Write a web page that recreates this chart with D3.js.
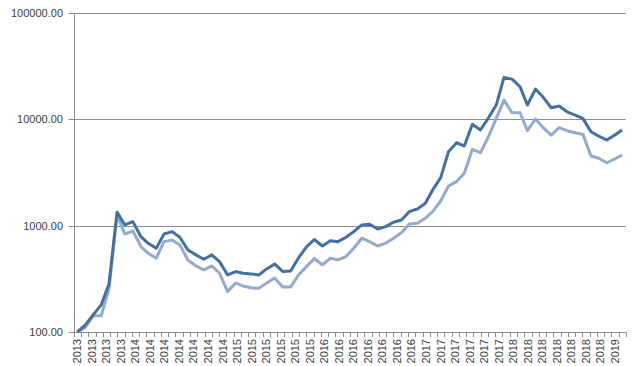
<!DOCTYPE html>
<html>
<head>
<meta charset="utf-8">
<script src="https://cdn.jsdelivr.net/npm/d3@7"></script>
<style>
  body { margin: 0; background: #fff; }
  text { font-family: "Liberation Sans", Arial, sans-serif; }
</style>
</head>
<body>
<div id="container"></div>
<script>
let width = 640;
let height = 366;

// monthly points
let months = [
    "2013-06", "2013-07", "2013-08", "2013-09", "2013-10", "2013-11", "2013-12",
    "2014-01", "2014-02", "2014-03", "2014-04", "2014-05", "2014-06", "2014-07", "2014-08", "2014-09", "2014-10", "2014-11", "2014-12",
    "2015-01", "2015-02", "2015-03", "2015-04", "2015-05", "2015-06", "2015-07", "2015-08", "2015-09", "2015-10", "2015-11", "2015-12",
    "2016-01", "2016-02", "2016-03", "2016-04", "2016-05", "2016-06", "2016-07", "2016-08", "2016-09", "2016-10", "2016-11", "2016-12",
    "2017-01", "2017-02", "2017-03", "2017-04", "2017-05", "2017-06", "2017-07", "2017-08", "2017-09", "2017-10", "2017-11", "2017-12",
    "2018-01", "2018-02", "2018-03", "2018-04", "2018-05", "2018-06", "2018-07", "2018-08", "2018-09", "2018-10", "2018-11", "2018-12",
    "2019-01", "2019-02", "2019-03"
];

let darkSeries = [
    100, 116, 145, 180, 283, 1340, 1016, 1091, 788, 683,
    614, 836, 879, 777, 591, 531, 483, 531, 459, 344,
    370, 357, 352, 344, 392, 437, 371, 375, 497, 632,
    741, 644, 722, 707, 778, 879, 1016, 1031, 931, 979,
    1077, 1132, 1356, 1436, 1623, 2167, 2830, 4955, 6030, 5610,
    8980, 7940, 10220, 13620, 24800, 23900, 20250, 13620, 19250, 16100,
    12850, 13340, 11780, 10960, 10210, 7640, 6960, 6390, 7110, 7940
];

let lightSeries = [
    100, 110, 142, 142, 254, 1250, 836, 890, 635, 550,
    494, 708, 734, 659, 476, 418, 384, 418, 357, 240,
    288, 271, 261, 258, 289, 322, 265, 265, 344, 412,
    492, 427, 494, 477, 512, 614, 762, 707, 644, 684,
    762, 860, 1038, 1054, 1175, 1356, 1706, 2361, 2595, 3107,
    5225, 4855, 6780, 10210, 15170, 11530, 11530, 7820, 10070, 8340,
    7110, 8340, 7820, 7480, 7220, 4520, 4300, 3905, 4240, 4615
];

let yTicks = [100, 1000, 10000, 100000];

// one label every second tick
let xLabels = [
    "2013", "2013", "2013", "2013",
    "2014", "2014", "2014", "2014", "2014", "2014", "2014",
    "2015", "2015", "2015", "2015", "2015", "2015",
    "2016", "2016", "2016", "2016", "2016", "2016", "2016",
    "2017", "2017", "2017", "2017", "2017", "2017",
    "2018", "2018", "2018", "2018", "2018", "2018", "2018",
    "2019"
];

let day = 864e5;
let tickStep = 28 * day;
let nTicks = 76;

let dates = months.map(d3.utcParse('%Y-%m'));
let axisStart = new Date(+dates[0] - tickStep / 2);
let axisEnd = new Date(+axisStart + nTicks * tickStep);

let plotLeft = 73.7, plotRight = 626;

let x = d3.scaleUtc().domain([axisStart, axisEnd]).range([plotLeft, plotRight]);
let y = d3.scaleLog().domain([100, 100000]).range([332, 13]);

let svg = d3.select("#container")
    .append("svg")
    .attr("width", width)
    .attr("height", height);

svg.append('rect')
    .attr('width', width)
    .attr('height', height)
    .attr('fill', '#ffffff');

let gridColor = '#8c8c8c';

// horizontal gridlines
svg.selectAll('.grid')
    .data(yTicks)
    .enter()
    .append('line')
    .attr('class', 'grid')
    .attr('x1', plotLeft - 5)
    .attr('x2', plotRight)
    .attr('y1', d => Math.round(y(d)) + 0.5)
    .attr('y2', d => Math.round(y(d)) + 0.5)
    .attr('stroke', gridColor)
    .attr('stroke-width', 1);

// y axis line
svg.append('line')
    .attr('x1', Math.round(plotLeft) + 0.5)
    .attr('x2', Math.round(plotLeft) + 0.5)
    .attr('y1', Math.round(y(100000)))
    .attr('y2', Math.round(y(100)) + 1)
    .attr('stroke', gridColor);

svg.selectAll('.ylabel')
    .data(yTicks)
    .enter()
    .append('text')
    .attr('class', 'ylabel')
    .attr('x', 63)
    .attr('y', d => y(d))
    .attr('dy', '0.35em')
    .attr('text-anchor', 'end')
    .attr('font-size', 11)
    .attr('fill', '#404040')
    .text(d => d3.format('.2f')(d));

// x ticks every 28 days
let tickDates = d3.range(nTicks + 1).map(k => new Date(+axisStart + k * tickStep));
svg.selectAll('.xtick')
    .data(tickDates)
    .enter()
    .append('line')
    .attr('class', 'xtick')
    .attr('x1', d => Math.round(x(d)) + 0.5)
    .attr('x2', d => Math.round(x(d)) + 0.5)
    .attr('y1', Math.round(y(100)) + 0.5)
    .attr('y2', Math.round(y(100)) + 5)
    .attr('stroke', gridColor);

svg.selectAll('.xlabel')
    .data(xLabels)
    .enter()
    .append('text')
    .attr('class', 'xlabel')
    .attr('transform', (d, i) => {
        let cx = x(new Date(+axisStart + tickStep / 2 + i * 2 * tickStep));
        return 'translate(' + cx + ',339) rotate(-90)';
    })
    .attr('dy', '0.35em')
    .attr('text-anchor', 'end')
    .attr('font-size', 11)
    .attr('fill', '#404040')
    .text(d => d);

let line = d3.line()
    .x((d, i) => x(dates[i]))
    .y(d => y(d));

svg.append('path')
    .datum(lightSeries)
    .attr('fill', 'none')
    .attr('stroke', '#94aacb')
    .attr('stroke-width', 3)
    .attr('stroke-linejoin', 'round')
    .attr('d', line);

svg.append('path')
    .datum(darkSeries)
    .attr('fill', 'none')
    .attr('stroke', '#44709f')
    .attr('stroke-width', 3)
    .attr('stroke-linejoin', 'round')
    .attr('d', line);
</script>
</body>
</html>
